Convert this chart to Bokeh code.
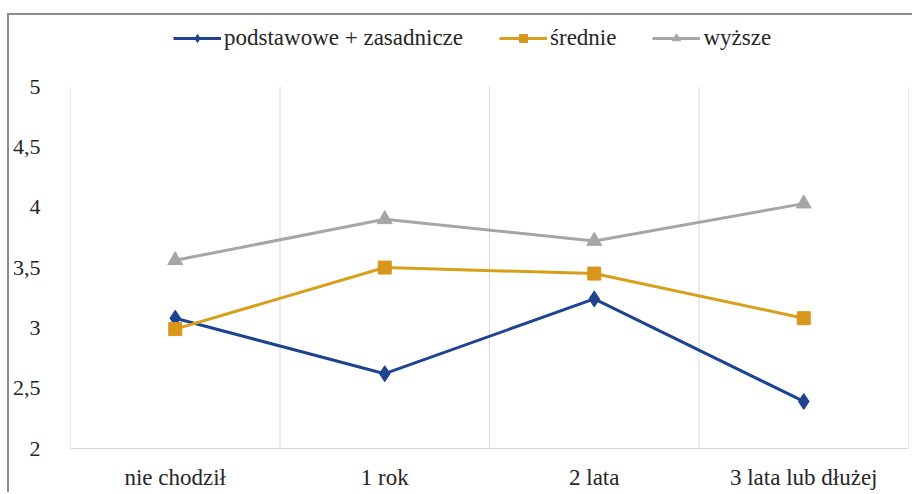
import numpy as np
from bokeh.plotting import figure
from bokeh.models import (Range1d, FixedTicker, CustomJSTickFormatter, Legend,
                          LegendItem)
from bokeh.embed import file_html
from bokeh.resources import INLINE

categories = ["nie chodził", "1 rok", "2 lata", "3 lata lub dłużej"]
series_names = ["podstawowe + zasadnicze", "średnie", "wyższe"]
podstawowe = [3.08, 2.62, 3.24, 2.39]
srednie = [2.99, 3.50, 3.45, 3.08]
wyzsze = [3.56, 3.90, 3.72, 4.03]
y_ticks = [2, 2.5, 3, 3.5, 4, 4.5, 5]
y_tick_labels = ["2", "2,5", "3", "3,5", "4", "4,5", "5"]

FONT = "Times"
TXT = "#262626"
GRID = "#d9d9d9"

x = [i + 0.5 for i in range(len(categories))]
bounds = list(range(len(categories) + 1))

p = figure(width=905, height=479, output_backend="svg", toolbar_location=None,
           x_range=Range1d(0, len(categories)), y_range=Range1d(2, 5.548),
           min_border_left=60, min_border_right=6, min_border_top=5,
           min_border_bottom=46)
p.margin = (13, 0, 0, 7)
p.styles = {"border-left": "2px solid #8c8c8c", "border-top": "2px solid #8c8c8c"}
p.outline_line_color = None
p.border_fill_color = "white"
p.background_fill_color = "white"

fmt_code = """
for (let i = 0; i < tvals.length; i++) {
  if (Math.abs(tvals[i] - tick) < 1e-6) return tlabels[i];
}
return '';
"""

# y axis
p.yaxis.ticker = FixedTicker(ticks=y_ticks)
p.yaxis.formatter = CustomJSTickFormatter(args=dict(tvals=y_ticks, tlabels=y_tick_labels), code=fmt_code)
p.yaxis.axis_line_color = None
p.yaxis.major_tick_line_color = None
p.yaxis.minor_tick_line_color = None
p.yaxis.major_label_standoff = 24
p.yaxis.major_label_text_font = FONT
p.yaxis.major_label_text_font_size = "22px"
p.yaxis.major_label_text_color = TXT
p.ygrid.grid_line_color = None

# x axis
p.xaxis.ticker = FixedTicker(ticks=x)
p.xaxis.formatter = CustomJSTickFormatter(args=dict(tvals=x, tlabels=categories), code=fmt_code)
p.xaxis.axis_line_color = GRID
p.xaxis.axis_line_width = 1
p.xaxis.major_tick_line_color = None
p.xaxis.minor_tick_line_color = None
p.xaxis.major_label_standoff = 10
p.xaxis.major_label_text_font = FONT
p.xaxis.major_label_text_font_size = "23px"
p.xaxis.major_label_text_color = TXT
p.xgrid.grid_line_color = None

# vertical separators between categories, spanning the value scale
p.segment(x0=bounds, x1=bounds, y0=[y_ticks[0]] * len(bounds), y1=[y_ticks[-1]] * len(bounds),
          line_color=GRID, line_width=1)

blue = "#1d4391"
gold_line = "#d6a01a"
gold_mark = "#da951c"
gray = "#a6a6a6"

l1 = p.line(x, podstawowe, line_color=blue, line_width=3)
m1 = p.scatter(x, podstawowe, marker="diamond", size=16, fill_color=blue, line_color=blue)
l2 = p.line(x, srednie, line_color=gold_line, line_width=3)
m2 = p.scatter(x, srednie, marker="square", size=13, fill_color=gold_mark, line_color=gold_mark)
l3 = p.line(x, wyzsze, line_color=gray, line_width=3)
m3 = p.scatter(x, wyzsze, marker="triangle", size=15, fill_color=gray, line_color=gray)

legend = Legend(items=[
    LegendItem(label=series_names[0], renderers=[l1, m1]),
    LegendItem(label=series_names[1], renderers=[l2, m2]),
    LegendItem(label=series_names[2], renderers=[l3, m3]),
], orientation="horizontal", location=(103, 397),
    border_line_color=None, background_fill_alpha=0,
    label_text_font=FONT, label_text_font_size="23px", label_text_color=TXT,
    glyph_width=48, glyph_height=20, spacing=36, padding=0, margin=0,
    label_standoff=3)
p.add_layout(legend)

open("out.html", "w").write(file_html(p, INLINE))
